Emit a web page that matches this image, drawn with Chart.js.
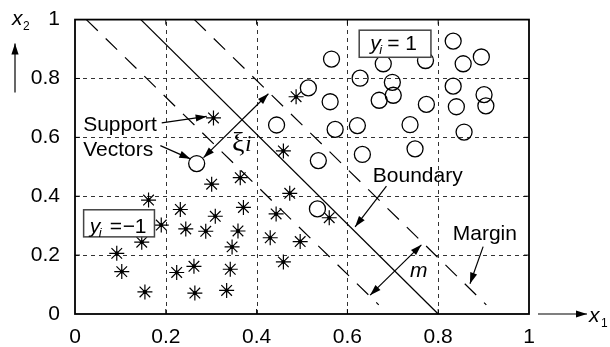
<!DOCTYPE html>
<html>
<head>
<meta charset="utf-8">
<script src="https://cdn.jsdelivr.net/npm/chart.js@4.4.0/dist/chart.umd.min.js"></script>
<style>
body { margin: 0; background: #fff; }
</style>
</head>
<body>
<canvas id="myChart" width="610" height="347"></canvas>
<script>
// tick labels on both axes
let tickValues = [0, 0.2, 0.4, 0.6, 0.8, 1];

// class y = 1 (circles)
let positiveX = [0.565, 0.679, 0.772, 0.833, 0.855, 0.895, 0.514, 0.628, 0.699, 0.670, 0.701, 0.562, 0.774,
	0.833, 0.840, 0.901, 0.905, 0.573, 0.622, 0.738, 0.857, 0.536, 0.633, 0.749, 0.444, 0.268, 0.534];
let positiveY = [0.866, 0.850, 0.861, 0.927, 0.850, 0.873, 0.768, 0.801, 0.787, 0.726, 0.743, 0.721, 0.712,
	0.774, 0.704, 0.745, 0.707, 0.627, 0.640, 0.643, 0.618, 0.521, 0.542, 0.561, 0.642, 0.511, 0.357];

// class y = -1 (asterisks)
let negativeX = [0.305, 0.487, 0.459, 0.301, 0.364, 0.473, 0.162, 0.232, 0.371, 0.309, 0.443, 0.190, 0.244,
	0.288, 0.359, 0.346, 0.147, 0.430, 0.496, 0.560, 0.092, 0.103, 0.224, 0.262, 0.342, 0.459, 0.154, 0.264, 0.334];
let negativeY = [0.666, 0.738, 0.554, 0.441, 0.463, 0.410, 0.387, 0.355, 0.362, 0.332, 0.340, 0.302, 0.289,
	0.281, 0.282, 0.228, 0.244, 0.259, 0.246, 0.327, 0.206, 0.144, 0.141, 0.162, 0.152, 0.177, 0.075, 0.071, 0.080];

// separating line and the two margins
let boundaryX = [0.145, 0.8];
let boundaryY = [1, 0];
let upperMarginX = [0.263, 0.906];
let upperMarginY = [1, 0.031];
let lowerMarginX = [0.025, 0.669];
let lowerMarginY = [1, 0.031];

const sans = "'Liberation Sans', Arial, sans-serif";
const serif = "'Liberation Serif', 'Times New Roman', serif";
Chart.defaults.font.family = sans;
Chart.defaults.font.size = 21;
Chart.defaults.color = '#000';

function toPoints(xs, ys) {
	let pts = [];
	for (let i = 0; i < xs.length; i++) {
		pts.push({x: xs[i], y: ys[i]});
	}
	return pts;
}

function head(ctx, x1, y1, x2, y2) {
	let a = Math.atan2(y2 - y1, x2 - x1);
	let len = 11, w = 3.6;
	ctx.beginPath();
	ctx.moveTo(x2, y2);
	ctx.lineTo(x2 - len * Math.cos(a) + w * Math.sin(a), y2 - len * Math.sin(a) - w * Math.cos(a));
	ctx.lineTo(x2 - len * Math.cos(a) - w * Math.sin(a), y2 - len * Math.sin(a) + w * Math.cos(a));
	ctx.closePath();
	ctx.fill();
}

function arrow(ctx, p1, p2, both) {
	ctx.beginPath();
	ctx.moveTo(p1[0], p1[1]);
	ctx.lineTo(p2[0], p2[1]);
	ctx.stroke();
	head(ctx, p1[0], p1[1], p2[0], p2[1]);
	if (both) head(ctx, p2[0], p2[1], p1[0], p1[1]);
}

const svmPlugin = {
	id: 'svm',
	beforeDatasetsDraw(chart) {
		const ctx = chart.ctx;
		const a = chart.chartArea;
		const sx = chart.scales.x, sy = chart.scales.y;
		ctx.save();
		ctx.strokeStyle = '#333';
		ctx.lineWidth = 1;
		ctx.setLineDash([4, 4]);
		for (let i = 1; i < tickValues.length - 1; i++) {
			let px = Math.round(sx.getPixelForValue(tickValues[i])) + 0.5;
			ctx.beginPath(); ctx.moveTo(px, a.bottom); ctx.lineTo(px, a.top); ctx.stroke();
			let py = Math.round(sy.getPixelForValue(tickValues[i])) + 0.5;
			ctx.beginPath(); ctx.moveTo(a.left, py); ctx.lineTo(a.right, py); ctx.stroke();
		}
		ctx.restore();
	},
	afterDatasetsDraw(chart) {
		const ctx = chart.ctx;
		const a = chart.chartArea;
		const sx = chart.scales.x, sy = chart.scales.y;
		const P = (x, y) => [sx.getPixelForValue(x), sy.getPixelForValue(y)];
		ctx.save();

		// frame with inward ticks
		ctx.strokeStyle = '#000';
		ctx.lineWidth = 1.8;
		ctx.strokeRect(a.left, a.top, a.right - a.left, a.bottom - a.top);
		ctx.lineWidth = 1;
		for (let i = 1; i < tickValues.length - 1; i++) {
			let px = sx.getPixelForValue(tickValues[i]);
			let py = sy.getPixelForValue(tickValues[i]);
			ctx.beginPath();
			ctx.moveTo(px, a.bottom); ctx.lineTo(px, a.bottom - 5);
			ctx.moveTo(px, a.top); ctx.lineTo(px, a.top + 5);
			ctx.moveTo(a.left, py); ctx.lineTo(a.left + 5, py);
			ctx.moveTo(a.right, py); ctx.lineTo(a.right - 5, py);
			ctx.stroke();
		}

		// class label boxes
		ctx.fillStyle = '#fff';
		ctx.strokeStyle = '#444';
		ctx.lineWidth = 1.5;
		let b1 = P(0.626, 0.964), b1e = P(0.784, 0.872);
		ctx.fillRect(b1[0], b1[1], b1e[0] - b1[0], b1e[1] - b1[1]);
		ctx.strokeRect(b1[0], b1[1], b1e[0] - b1[0], b1e[1] - b1[1]);
		let b2 = P(0.019, 0.354), b2e = P(0.175, 0.262);
		ctx.fillRect(b2[0], b2[1], b2e[0] - b2[0], b2e[1] - b2[1]);
		ctx.strokeRect(b2[0], b2[1], b2e[0] - b2[0], b2e[1] - b2[1]);

		ctx.fillStyle = '#000';
		ctx.textBaseline = 'alphabetic';
		ctx.textAlign = 'left';
		ctx.font = 'italic 21px ' + sans;
		ctx.fillText('y', b1[0] + 11, b1[1] + 20);
		ctx.fillText('y', b2[0] + 6, b2[1] + 23);
		ctx.font = 'italic 13px ' + sans;
		ctx.fillText('i', b1[0] + 20, b1[1] + 24);
		ctx.fillText('i', b2[0] + 15, b2[1] + 27);
		ctx.font = '21px ' + sans;
		ctx.fillText('=', b1[0] + 28, b1[1] + 20);
		ctx.fillText('1', b1[0] + 46, b1[1] + 20);
		ctx.fillText('=', b2[0] + 26, b2[1] + 23);
		ctx.fillText('\u2212', b2[0] + 39, b2[1] + 23);
		ctx.fillText('1', b2[0] + 51, b2[1] + 23);

		// text labels
		let t;
		t = P(0.018, 0.620); ctx.fillText('Support', t[0], t[1]);
		t = P(0.018, 0.537); ctx.fillText('Vectors', t[0], t[1]);
		t = P(0.656, 0.448); ctx.fillText('Boundary', t[0], t[1]);
		t = P(0.832, 0.253); ctx.fillText('Margin', t[0], t[1]);
		ctx.font = 'italic 21px ' + sans;
		t = P(0.738, 0.124); ctx.fillText('m', t[0], t[1]);
		ctx.font = '28px ' + serif;
		t = P(0.346, 0.554); ctx.fillText('\u03BE', t[0], t[1]);
		ctx.font = 'italic 24px ' + serif;
		ctx.fillText('i', t[0] + 13, t[1]);

		// arrows
		ctx.strokeStyle = '#000';
		ctx.lineWidth = 1.2;
		arrow(ctx, P(0.191, 0.649), P(0.290, 0.671), false);
		arrow(ctx, P(0.188, 0.572), P(0.254, 0.527), false);
		arrow(ctx, P(0.283, 0.531), P(0.426, 0.748), true);
		arrow(ctx, P(0.686, 0.434), P(0.617, 0.296), false);
		arrow(ctx, P(0.899, 0.229), P(0.870, 0.103), false);
		arrow(ctx, P(0.763, 0.235), P(0.650, 0.064), true);

		// axis names with arrows outside the frame
		arrow(ctx, [15, a.top + 73], [15, a.top + 24], false);
		arrow(ctx, [a.right + 9, a.bottom], [a.right + 58, a.bottom], false);
		ctx.font = 'italic 21px ' + sans;
		ctx.fillText('x', 12, 25);
		ctx.fillText('x', a.right + 60, a.bottom + 8);
		ctx.font = '12px ' + sans;
		ctx.fillText('2', 23, 30);
		ctx.fillText('1', a.right + 72, a.bottom + 13);
		ctx.restore();
	}
};

const ctx = document.getElementById('myChart');

new Chart(ctx, {
	type: 'scatter',
	data: {
		datasets: [
			{
				data: toPoints(boundaryX, boundaryY),
				showLine: true, pointRadius: 0,
				borderColor: '#000', borderWidth: 1.3
			},
			{
				data: toPoints(upperMarginX, upperMarginY),
				showLine: true, pointRadius: 0,
				borderColor: '#000', borderWidth: 1.2, borderDash: [16, 11]
			},
			{
				data: toPoints(lowerMarginX, lowerMarginY),
				showLine: true, pointRadius: 0,
				borderColor: '#000', borderWidth: 1.2, borderDash: [16, 11]
			},
			{
				data: toPoints(positiveX, positiveY),
				pointStyle: 'circle', pointRadius: 8,
				pointBackgroundColor: 'rgba(0,0,0,0)',
				pointBorderColor: '#000', pointBorderWidth: 1.3
			},
			{
				data: toPoints(negativeX, negativeY),
				pointStyle: 'star', pointRadius: 7.5,
				pointBorderColor: '#000', pointBorderWidth: 1.2
			},
			{
				data: toPoints(negativeX, negativeY),
				pointStyle: 'circle', pointRadius: 2,
				pointBackgroundColor: '#000', pointBorderWidth: 0
			}
		]
	},
	options: {
		responsive: false,
		animation: false,
		events: [],
		layout: { padding: { top: 12, right: 81, left: 0, bottom: 0 } },
		plugins: { legend: { display: false }, tooltip: { enabled: false } },
		scales: {
			x: {
				type: 'linear', min: 0, max: 1,
				afterFit: (scale) => { scale.height = 33; },
				grid: { display: false },
				border: { display: false },
				ticks: {
					stepSize: 0.2, padding: 3,
					callback: (v) => String(+v.toFixed(1))
				}
			},
			y: {
				type: 'linear', min: 0, max: 1,
				afterFit: (scale) => { scale.width = 75; },
				grid: { display: false },
				border: { display: false },
				ticks: {
					stepSize: 0.2, padding: 7,
					callback: (v) => String(+v.toFixed(1))
				}
			}
		}
	},
	plugins: [svmPlugin]
});
</script>
</body>
</html>
